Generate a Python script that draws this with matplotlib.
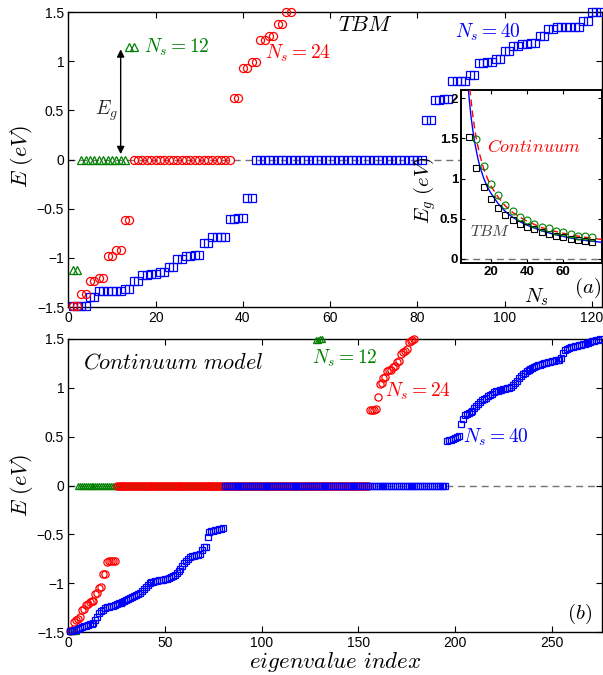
import matplotlib
matplotlib.use("Agg")
import matplotlib.pyplot as plt
import numpy as np

plt.rcParams['font.family'] = ['Liberation Sans', 'DejaVu Sans']
plt.rcParams['mathtext.fontset'] = 'cm'

GREEN = (0.0, 0.5, 0.0)
RED = (1.0, 0.0, 0.0)
BLUE = (0.0, 0.0, 1.0)

# ---------------- (a) TBM eigenvalues ----------------
tbm_12 = [-1.12, -1.12] + [0.0] * 11 + [1.14, 1.14]
tbm_24 = ([-1.49, -1.49, -1.37, -1.37, -1.24, -1.24, -1.21, -1.21,
           -0.98, -0.98, -0.92, -0.92, -0.62, -0.62]
          + [0.0] * 23
          + [0.63, 0.63, 0.93, 0.93, 0.99, 0.99, 1.22, 1.22,
             1.26, 1.26, 1.38, 1.38, 1.50, 1.50])
tbm_40 = ([-1.49, -1.49, -1.49, -1.49, -1.40, -1.40,
           -1.34, -1.34, -1.34, -1.34, -1.34, -1.34, -1.32, -1.32,
           -1.24, -1.24, -1.17, -1.17, -1.16, -1.16, -1.14, -1.14,
           -1.09, -1.09, -1.01, -1.01, -0.98, -0.98, -0.97, -0.97,
           -0.85, -0.85, -0.79, -0.79, -0.79, -0.79, -0.61, -0.61,
           -0.59, -0.59, -0.39, -0.39]
          + [0.0] * 39
          + [0.40, 0.40, 0.60, 0.60, 0.62, 0.62, 0.80, 0.80, 0.80, 0.80,
             0.86, 0.86, 0.98, 0.98, 0.99, 0.99, 1.02, 1.02, 1.10, 1.10,
             1.15, 1.15, 1.17, 1.17, 1.18, 1.18, 1.26, 1.26, 1.33, 1.33,
             1.35, 1.35, 1.35, 1.35, 1.35, 1.35, 1.41, 1.41,
             1.50, 1.50, 1.50])

# ---------------- (b) Continuum model eigenvalues ----------------
cont_12 = [-1.49, -1.49, -1.49, -1.49] + [0.0] * 123 + [1.49, 1.49, 1.50, 1.50]
cont_24 = ([-1.49, -1.48, -1.40, -1.38, -1.37, -1.35, -1.27, -1.26, -1.22, -1.21,
            -1.19, -1.18, -1.18, -1.11, -1.10, -1.05, -1.04, -0.91, -0.91,
            -0.78, -0.77, -0.77, -0.77, -0.77]
           + [0.0] * 131
           + [0.77, 0.77, 0.77, 0.78, 0.91, 1.04, 1.05, 1.10, 1.11, 1.17,
              1.18, 1.18, 1.21, 1.22, 1.26, 1.27, 1.35, 1.37, 1.38, 1.40,
              1.47, 1.48, 1.49, 1.50])
cont_40 = ([-1.49, -1.49, -1.48, -1.48, -1.47, -1.46,
            -1.45, -1.44, -1.44, -1.43, -1.42, -1.42, -1.41,
            -1.38, -1.35, -1.31, -1.29, -1.27,
            -1.25, -1.24, -1.24, -1.23, -1.23, -1.22,
            -1.21, -1.20, -1.20, -1.19, -1.18, -1.17, -1.16, -1.15, -1.14,
            -1.13, -1.12, -1.11, -1.10, -1.08, -1.06, -1.04,
            -1.02, -1.00, -0.99, -0.99, -0.98, -0.98,
            -0.97, -0.97, -0.97, -0.96, -0.96, -0.95, -0.94, -0.93,
            -0.92, -0.90, -0.88, -0.85, -0.82, -0.79,
            -0.77, -0.75, -0.73, -0.72, -0.72, -0.71, -0.71, -0.70,
            -0.66, -0.63, -0.63, -0.53,
            -0.48, -0.47, -0.47, -0.46, -0.46, -0.45, -0.45, -0.44]
           + [0.0] * 115
           + [0.46, 0.47, 0.47, 0.48,
              0.49, 0.50, 0.51,
              0.63, 0.68,
              0.72, 0.73, 0.74, 0.75, 0.76,
              0.79, 0.81, 0.83,
              0.86, 0.88, 0.89, 0.90,
              0.92, 0.93, 0.94,
              0.96, 0.97, 0.97, 0.98, 0.98, 0.99, 0.99, 1.00, 1.00, 1.01,
              1.03, 1.05, 1.07,
              1.10, 1.12, 1.14, 1.15,
              1.17, 1.18, 1.19, 1.20, 1.21,
              1.22, 1.23, 1.23, 1.24, 1.25, 1.25,
              1.26, 1.26, 1.27, 1.27, 1.28, 1.28, 1.29,
              1.31, 1.36, 1.39,
              1.40, 1.41, 1.42, 1.42, 1.43, 1.43,
              1.44, 1.44, 1.45, 1.45, 1.46, 1.46, 1.47,
              1.48, 1.48, 1.49, 1.49, 1.50])

# ---------------- inset: gap vs N_s ----------------
inset_N = [8, 12, 16, 20, 24, 28, 32, 36, 40, 44, 48, 52, 56, 60, 64, 68, 72, 76]
gap_tbm = [1.52, 1.13, 0.89, 0.74, 0.63, 0.55, 0.49, 0.44, 0.40, 0.37,
           0.335, 0.31, 0.285, 0.27, 0.25, 0.235, 0.225, 0.215]
cont_N = [12, 16, 20, 24, 28, 32, 36, 40, 44, 48, 52, 56, 60, 64, 68, 72, 76]
gap_cont = [1.49, 1.15, 0.93, 0.79, 0.67, 0.595, 0.525, 0.485, 0.44, 0.40,
            0.38, 0.35, 0.33, 0.305, 0.29, 0.285, 0.27]
fit_tbm_N = [7.6, 8, 9, 10, 11, 12, 13, 14, 16, 18, 20, 24, 28, 32, 36, 40,
             48, 56, 64, 72, 82]
fit_tbm_E = [2.12, 2.02, 1.79, 1.62, 1.47, 1.35, 1.24, 1.15, 1.01, 0.90, 0.82,
             0.69, 0.59, 0.52, 0.465, 0.42, 0.35, 0.30, 0.26, 0.23, 0.205]
fit_cont_N = [8.5, 9, 10, 11, 12, 13, 14, 16, 18, 20, 24, 28, 32, 36, 40,
              48, 56, 64, 72, 82]
fit_cont_E = [2.12, 2.00, 1.80, 1.64, 1.50, 1.39, 1.29, 1.13, 1.01, 0.91,
              0.77, 0.66, 0.58, 0.52, 0.47, 0.39, 0.34, 0.30, 0.27, 0.24]

W, H = 603, 675
fig = plt.figure(figsize=(W / 100, H / 100), dpi=100)


def px_axes(l, t, r, b):
    return fig.add_axes([l / W, 1 - b / H, (r - l) / W, (b - t) / H])


def style_main(ax):
    ax.tick_params(direction='in', top=True, right=True, length=4,
                   width=0.8, labelsize=10, pad=3)
    for s in ax.spines.values():
        s.set_linewidth(1.0)


def place_ylabel(ax, text, size, x, y):
    ax.set_ylabel(text, fontsize=size)
    ax.yaxis.label.set_va('center')
    ax.yaxis.set_label_coords(x, y)


def place_xlabel(ax, text, size, x, y):
    ax.set_xlabel(text, fontsize=size)
    ax.xaxis.label.set_va('center')
    ax.xaxis.set_label_coords(x, y)


mk = dict(linestyle='none', mfc='none', clip_on=False, mew=0.9)

# ---------- top panel ----------
ax1 = px_axes(68.3, 12, 602, 307)
ax1.axhline(0, color='0.45', ls=(0, (5, 3.5)), lw=1.0, zorder=1)
ax1.plot(np.arange(1, len(tbm_40) + 1), tbm_40, marker='s', ms=5.4,
         color=BLUE, **mk, zorder=3)
ax1.plot(np.arange(1, len(tbm_24) + 1), tbm_24, marker='o', ms=5.8,
         color=RED, **mk, zorder=4)
ax1.plot(np.arange(1, len(tbm_12) + 1), tbm_12, marker='^', ms=5.8,
         color=GREEN, **mk, zorder=5)
ax1.set_xlim(0, 122.3)
ax1.set_ylim(-1.5, 1.5)
ax1.set_xticks([0, 20, 40, 60, 80, 100, 120])
ax1.set_yticks([-1.5, -1, -0.5, 0, 0.5, 1, 1.5])
ax1.set_yticklabels(['\u22121.5', '\u22121', '\u22120.5', '0', '0.5', '1', '1.5'])
style_main(ax1)
place_ylabel(ax1, r'$E\ (eV)$', 16, -0.087, 0.51)

ax1.annotate('', xy=(12, 1.12), xytext=(12, 0.055),
             arrowprops=dict(arrowstyle='<|-|>', color='k', lw=1.0,
                             mutation_scale=11, shrinkA=0, shrinkB=0))
ax1.text(8.7, 0.50, r'$E_g$', fontsize=14, ha='center', va='center', color='0.15')
ax1.text(17.3, 1.14, r'$N_s = 12$', fontsize=14, color=GREEN, ha='left', va='center')
ax1.text(45.0, 1.08, r'$N_s = 24$', fontsize=14, color=RED, ha='left', va='center')
ax1.text(68.0, 1.36, r'$TBM$', fontsize=16, color='k', ha='center', va='center')
ax1.text(88.5, 1.29, r'$N_s = 40$', fontsize=14, color=BLUE, ha='left', va='center')
ax1.text(119.0, -1.31, r'$(a)$', fontsize=15, color='k', ha='center', va='center')

# ---------- bottom panel ----------
ax2 = px_axes(68.3, 339, 602, 632)
ax2.axhline(0, color='0.45', ls=(0, (5, 3.5)), lw=1.0, zorder=1)
ax2.plot(np.arange(1, len(cont_12) + 1), cont_12, marker='^', ms=5.0,
         color=GREEN, **mk, zorder=3)
ax2.plot(np.arange(1, len(cont_24) + 1), cont_24, marker='o', ms=5.2,
         color=RED, **mk, zorder=4)
ax2.plot(np.arange(1, len(cont_40) + 1), cont_40, marker='s', ms=4.8,
         color=BLUE, **mk, zorder=5)
ax2.set_xlim(0, 276)
ax2.set_ylim(-1.5, 1.5)
ax2.set_xticks([0, 50, 100, 150, 200, 250])
ax2.set_yticks([-1.5, -1, -0.5, 0, 0.5, 1, 1.5])
ax2.set_yticklabels(['\u22121.5', '\u22121', '\u22120.5', '0', '0.5', '1', '1.5'])
style_main(ax2)
place_ylabel(ax2, r'$E\ (eV)$', 16, -0.087, 0.50)
place_xlabel(ax2, r'$eigenvalue\ index$', 16.5, 0.50, -0.103)
ax2.text(7.5, 1.25, r'$Continuum\ model$', fontsize=16, ha='left', va='center')
ax2.text(126.0, 1.30, r'$N_s = 12$', fontsize=14, color=GREEN, ha='left', va='center')
ax2.text(164.0, 0.96, r'$N_s = 24$', fontsize=14, color=RED, ha='left', va='center')
ax2.text(204.0, 0.49, r'$N_s = 40$', fontsize=14, color=BLUE, ha='left', va='center')
ax2.text(264.5, -1.32, r'$(b)$', fontsize=15, ha='center', va='center')

# ---------- inset ----------
ax3 = px_axes(461, 90, 602, 263)
ax3.axhline(0, color='0.45', ls=(0, (5, 3.5)), lw=1.0, zorder=1)
ax3.plot(fit_tbm_N, fit_tbm_E, color=BLUE, lw=1.0, zorder=3)
ax3.plot(fit_cont_N, fit_cont_E, color=RED, lw=1.0, ls=(0, (5, 3)), zorder=3)
ax3.plot(inset_N, gap_tbm, marker='s', ms=4.2, color='k', linestyle='none',
         mfc='none', mew=0.8, zorder=4)
ax3.plot(cont_N, gap_cont, marker='o', ms=5.0, color=GREEN, linestyle='none',
         mfc='none', mew=0.8, zorder=4)
ax3.set_xlim(3.6, 81.3)
ax3.set_ylim(-0.05, 2.1)
ax3.set_xticks([20, 40, 60])
ax3.set_yticks([0, 0.5, 1, 1.5, 2])
ax3.set_yticklabels(['0', '0.5', '1', '1.5', '2'])
ax3.tick_params(direction='in', top=True, right=True, length=3, width=0.8,
                labelsize=9.5, pad=2)
for lab in ax3.get_xticklabels() + ax3.get_yticklabels():
    lab.set_fontweight('bold')
for s in ax3.spines.values():
    s.set_linewidth(1.4)
place_xlabel(ax3, r'$N_s$', 15, 0.537, -0.20)
place_ylabel(ax3, r'$E_g\ (eV)$', 15, -0.255, 0.42)
ax3.text(18.0, 1.38, r'$Continuum$', fontsize=13, color=RED, ha='left', va='center')
ax3.text(8.8, 0.34, r'$TBM$', fontsize=11.5, color='0.25', ha='left', va='center')

fig.savefig('out.png', dpi=100)
